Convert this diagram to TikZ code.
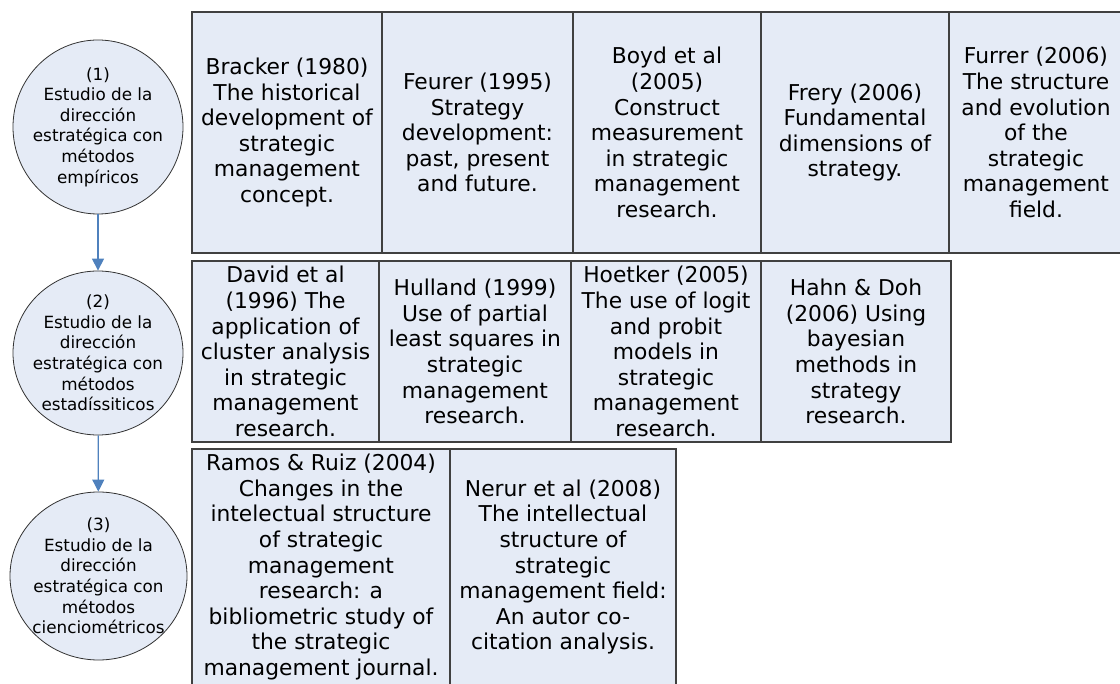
\documentclass[tikz,border=0pt]{standalone}
\usepackage{fontspec}
\setmainfont{DejaVu Sans}
\usepackage{tikz}
\usetikzlibrary{arrows.meta, positioning, shapes.geometric}
\definecolor{cellfill}{RGB}{229,235,246}
\definecolor{cellline}{RGB}{64,64,64}
\definecolor{flowblue}{RGB}{79,129,189}

\begin{document}
\begin{tikzpicture}[x=1pt, y=-1pt,
  cell/.style={draw=cellline, fill=cellfill, line width=1.2pt, inner sep=0pt,
    minimum width=#1, align=center, font=\fontsize{21.8}{25.6}\selectfont},
  row1/.style={minimum height=241pt},
  row2/.style={minimum height=181pt},
  row3/.style={minimum height=236pt},
  stage/.style={ellipse, draw=black!80, fill=cellfill, line width=0.8pt,
    inner sep=-12pt, align=center, font=\fontsize{16.8}{20.6}\selectfont},
  arr/.style={-{Triangle[length=12pt, width=12pt]}, line width=1.2pt, flowblue}
]
\useasboundingbox (0,0) rectangle (1120,684);
\clip (0,0) rectangle (1120,684);
% stages
\node[stage, minimum width=170pt, minimum height=174pt] (stage1) at (98,127)
  {(1)\\Estudio de la\\dirección\\estratégica con\\métodos\\empíricos};
\node[stage, minimum width=170pt, minimum height=164pt] (stage2) at (98,353)
  {(2)\\Estudio de la\\dirección\\estratégica con\\métodos\\estadíssiticos};
\node[stage, minimum width=177pt, minimum height=168pt] (stage3) at (98.5,576)
  {(3)\\Estudio de la\\dirección\\estratégica con\\métodos\\cienciométricos};
\draw[arr] (stage1) -- (stage2);
\draw[arr] (stage2) -- (stage3);
% row 1
\node[cell=190pt, row1] (bracker) at (287,132.5)
  {Bracker (1980)\\The historical\\development of\\strategic\\management\\concept.};
\node[cell=191pt, row1] (feurer) at (477.5,132.5)
  {Feurer (1995)\\Strategy\\development:\\past, present\\and future.};
\node[cell=188pt, row1] (boyd) at (667,132.5)
  {Boyd et al\\(2005)\\Construct\\measurement\\in strategic\\management\\research.};
\node[cell=188pt, row1] (frery) at (855,132.5)
  {Frery (2006)\\Fundamental\\dimensions of\\strategy.};
\node[cell=174pt, row1] (furrer) at (1036,132.5)
  {Furrer (2006)\\The structure\\and evolution\\of the\\strategic\\management\\field.};
% row 2
\node[cell=187pt, row2] (david) at (285.5,351.5)
  {David et al\\(1996) The\\application of\\cluster analysis\\in strategic\\management\\research.};
\node[cell=192pt, row2] (hulland) at (475,351.5)
  {Hulland (1999)\\Use of partial\\least squares in\\strategic\\management\\research.};
\node[cell=190pt, row2] (hoetker) at (666,351.5)
  {Hoetker (2005)\\The use of logit\\and probit\\models in\\strategic\\management\\research.};
\node[cell=190pt, row2] (hahn) at (856,351.5)
  {Hahn \& Doh\\(2006) Using\\bayesian\\methods in\\strategy\\research.};
% row 3
\node[cell=258pt, row3] (ramos) at (321,567)
  {Ramos \& Ruiz (2004)\\Changes in the\\intelectual structure\\of strategic\\management\\research: a\\bibliometric study of\\the strategic\\management journal.};
\node[cell=226pt, row3] (nerur) at (563,567)
  {Nerur et al (2008)\\The intellectual\\structure of\\strategic\\management field:\\An autor co-\\citation analysis.};
\end{tikzpicture}
\end{document}
